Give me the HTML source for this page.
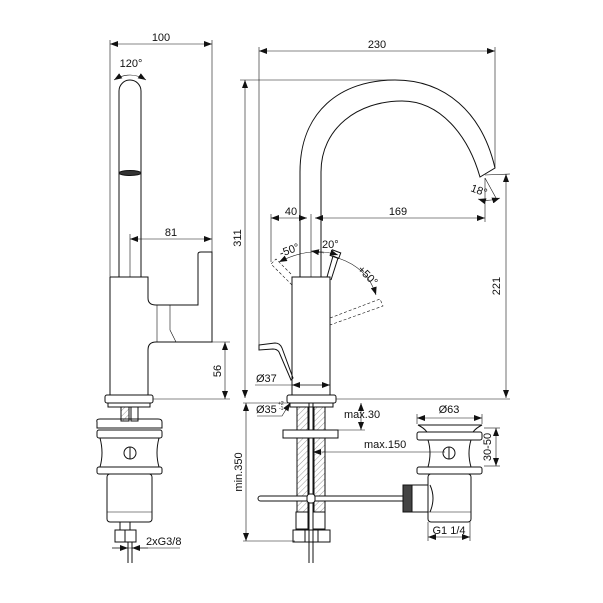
<!DOCTYPE html>
<html><head><meta charset="utf-8"><style>
html,body{margin:0;padding:0;background:#fff;}
svg{display:block;font-family:"Liberation Sans",sans-serif;}
text{font-size:11px;fill:#111;}
</style></head><body>
<svg width="603" height="603" viewBox="0 0 603 603" xmlns="http://www.w3.org/2000/svg">
<defs>
<marker id="a" markerWidth="8" markerHeight="6" refX="8" refY="3" orient="auto-start-reverse" markerUnits="userSpaceOnUse"><path d="M0,0 L8,3 L0,6z" fill="#111"/></marker>
<pattern id="h" width="4" height="4" patternUnits="userSpaceOnUse" patternTransform="rotate(45)"><rect width="4" height="4" fill="#fff"/><line x1="0" y1="0" x2="0" y2="4" stroke="#999" stroke-width="1"/></pattern>
</defs>
<g fill="none" stroke="#111" stroke-width="1">
<!-- LEFT VIEW -->
<line x1="110" y1="40" x2="110" y2="277" stroke-width="0.6"/>
<line x1="212" y1="40" x2="212" y2="252" stroke-width="0.6"/>
<line x1="110" y1="44" x2="212" y2="44" stroke-width="0.6" marker-start="url(#a)" marker-end="url(#a)"/>
<path d="M114,80 Q130,70 146,80" stroke-width="0.6" marker-start="url(#a)" marker-end="url(#a)"/>
<path d="M119,277 L119,91 A11,11 0 0 1 141,91 L141,277"/>
<ellipse cx="130" cy="173" rx="11" ry="2.5" fill="#333"/>
<line x1="130" y1="234" x2="130" y2="277" stroke-width="0.6"/>
<line x1="130" y1="239" x2="212" y2="239" stroke-width="0.6" marker-start="url(#a)" marker-end="url(#a)"/>
<path d="M110,277 L148,277 L148,298 Q148,305 156,305 L198,305 L198,254 Q198,252 201,252 L212,252 L212,342 L156,342 Q148,342 148,350 L148,395"/>
<line x1="110" y1="277" x2="110" y2="395"/>
<line x1="157" y1="305" x2="157" y2="342" stroke-width="0.6"/>
<path d="M170,305 L170,330 L176,342" stroke-width="0.6"/>
<line x1="212" y1="342" x2="230" y2="342" stroke-width="0.6"/>
<line x1="153" y1="399" x2="230" y2="399" stroke-width="0.6"/>
<line x1="225" y1="342" x2="225" y2="399" stroke-width="0.6" marker-start="url(#a)" marker-end="url(#a)"/>
<rect x="105" y="395" width="48" height="8" rx="2"/>
<rect x="108" y="403" width="42" height="4"/>
<rect x="121" y="407" width="8" height="14" fill="url(#h)"/>
<rect x="131" y="407" width="7" height="14"/>
<path d="M97,422 Q96,419 100,419 L158,419 Q162,419 162,422 L162,428 L97,428Z"/>
<rect x="97" y="430" width="65" height="8" rx="2"/>
<path d="M100,438 Q104,453 100,467 M159,438 Q155,453 159,467"/>
<line x1="100" y1="438" x2="159" y2="438"/>
<rect x="124" y="447" width="12" height="12" rx="6"/>
<line x1="130" y1="447" x2="130" y2="459"/>
<rect x="97" y="467" width="65" height="7" rx="2"/>
<rect x="107" y="474" width="45" height="48" rx="3"/>
<line x1="107" y1="512" x2="152" y2="512" stroke-width="0.6"/>
<rect x="120" y="522" width="10" height="8"/>
<rect x="115" y="530" width="21" height="12"/>
<line x1="125" y1="530" x2="125" y2="542"/>
<line x1="128" y1="542" x2="128" y2="563"/><line x1="132" y1="542" x2="132" y2="563"/>
<line x1="112" y1="548" x2="180" y2="548" stroke-width="0.6"/>
<line x1="112" y1="548" x2="128" y2="548" stroke-width="0.6" marker-end="url(#a)"/>
<line x1="148" y1="548" x2="132" y2="548" stroke-width="0.6" marker-end="url(#a)"/>

<!-- RIGHT VIEW -->
<line x1="259" y1="47" x2="259" y2="345" stroke-width="0.6"/>
<line x1="495" y1="47" x2="495" y2="168" stroke-width="0.6"/>
<line x1="259" y1="51" x2="495" y2="51" stroke-width="0.6" marker-start="url(#a)" marker-end="url(#a)"/>
<line x1="240" y1="80" x2="395" y2="80" stroke-width="0.6"/>
<line x1="245" y1="80" x2="245" y2="398" stroke-width="0.6" marker-start="url(#a)" marker-end="url(#a)"/>
<path d="M300,277 L300,172 C300,112 340,80 395,80 C445,80 482,112 495,168 L480,177 C468,135 440,101 402,101 C358,101 321,128 321,172 L321,277"/>
<line x1="485" y1="175" x2="510" y2="174" stroke-width="0.6"/>
<line x1="485" y1="178" x2="485" y2="222" stroke-width="0.6"/>
<line x1="485" y1="178" x2="496" y2="198" stroke-width="0.6"/>
<path d="M478,199 Q488,202 500,198" stroke-width="0.6" marker-start="url(#a)" marker-end="url(#a)"/>
<line x1="506" y1="174" x2="506" y2="398" stroke-width="0.6" marker-start="url(#a)" marker-end="url(#a)"/>
<line x1="336" y1="399" x2="510" y2="399" stroke-width="0.6"/>
<line x1="271" y1="214" x2="271" y2="262" stroke-width="0.6"/>
<line x1="311" y1="214" x2="311" y2="277" stroke-width="0.6"/>
<line x1="271" y1="218" x2="307" y2="218" stroke-width="0.6" marker-start="url(#a)" marker-end="url(#a)"/>
<line x1="315" y1="218" x2="485" y2="218" stroke-width="0.6" marker-start="url(#a)" marker-end="url(#a)"/>
<rect x="292" y="277" width="38" height="118"/>
<path d="M327,277 L333,256 L338,258 L331,280" />
<rect x="331" y="251" width="9" height="6" transform="rotate(20 335 254)"/>
<g stroke-dasharray="3,2" stroke-width="0.6">
<path d="M292,285 L271,264 L276,259 L292,275"/>
<path d="M330,318 L380,299 L383,306 L330,325"/>
</g>
<path d="M279,262 Q310,246 338,255" stroke-width="0.6" marker-start="url(#a)" marker-end="url(#a)"/>
<path d="M338,258 Q368,268 376,295" stroke-width="0.6" marker-end="url(#a)"/>
<path d="M311,251 L324,253" stroke-width="0.6" marker-start="url(#a)"/>
<path d="M259,345 L275,343 Q280,343 282,348 L293,378 L291,380 L279,352 Q277,349 273,349 L259,350Z"/>
<line x1="255" y1="385" x2="330" y2="385" stroke-width="0.6"/>
<line x1="292" y1="385" x2="330" y2="385" stroke-width="0.6" marker-start="url(#a)" marker-end="url(#a)"/>
<rect x="287" y="395" width="49" height="8" rx="2"/>
<rect x="290" y="403" width="43" height="4"/>
<rect x="297" y="407" width="11" height="105" fill="url(#h)"/>
<rect x="314" y="407" width="11" height="105" fill="url(#h)"/>
<line x1="309" y1="403" x2="309" y2="563"/><line x1="313" y1="403" x2="313" y2="563"/>
<rect x="283" y="430" width="55" height="8" fill="#fff"/>
<line x1="336" y1="430" x2="365" y2="430" stroke-width="0.6"/>
<line x1="361" y1="403" x2="361" y2="430" stroke-width="0.6" marker-start="url(#a)" marker-end="url(#a)"/>
<line x1="313" y1="452" x2="445" y2="452" stroke-width="0.6" marker-start="url(#a)"/>
<rect x="258" y="496" width="147" height="5" rx="2.5" fill="#fff"/>
<rect x="307" y="494" width="8" height="9" rx="3" fill="#fff"/>
<rect x="403" y="485" width="9" height="27" fill="#444"/>
<rect x="296" y="512" width="12" height="17"/>
<rect x="313" y="512" width="12" height="17"/>
<rect x="293" y="530" width="37" height="12"/>
<line x1="305" y1="530" x2="305" y2="542"/><line x1="318" y1="530" x2="318" y2="542"/>
<line x1="243" y1="403" x2="290" y2="403" stroke-width="0.6"/>
<line x1="243" y1="541" x2="295" y2="541" stroke-width="0.6"/>
<line x1="246" y1="403" x2="246" y2="541" stroke-width="0.6" marker-start="url(#a)" marker-end="url(#a)"/>
<path d="M257,416 L282,416 L290,403" stroke-width="0.6" marker-end="url(#a)"/>

<!-- WASTE -->
<line x1="417" y1="414" x2="417" y2="424" stroke-width="0.6"/>
<line x1="482" y1="414" x2="482" y2="424" stroke-width="0.6"/>
<line x1="417" y1="418" x2="482" y2="418" stroke-width="0.6" marker-start="url(#a)" marker-end="url(#a)"/>
<path d="M418,425 L482,425 Q476,428 473,432 L427,432 Q424,428 418,425Z"/>
<rect x="417" y="432" width="65" height="8" rx="2"/>
<path d="M428,440 Q432,453 428,467 M471,440 Q467,453 471,467"/>
<rect x="443" y="447" width="12" height="12" rx="6"/>
<line x1="449" y1="447" x2="449" y2="459"/>
<rect x="417" y="467" width="65" height="7" rx="2"/>
<rect x="428" y="474" width="43" height="48" rx="3"/>
<line x1="428" y1="512" x2="471" y2="512" stroke-width="0.6"/>
<path d="M412,485 L428,485 M412,512 L428,512 M430,485 Q436,498 430,512"/>
<line x1="484" y1="428" x2="500" y2="428" stroke-width="0.6"/>
<line x1="484" y1="466" x2="500" y2="466" stroke-width="0.6"/>
<line x1="496" y1="428" x2="496" y2="466" stroke-width="0.6" marker-start="url(#a)" marker-end="url(#a)"/>
<line x1="428" y1="522" x2="428" y2="541" stroke-width="0.6"/>
<line x1="470" y1="522" x2="470" y2="541" stroke-width="0.6"/>
<line x1="428" y1="537" x2="470" y2="537" stroke-width="0.6" marker-start="url(#a)" marker-end="url(#a)"/>
</g>
<text x="161" y="41" text-anchor="middle">100</text>
<text x="131" y="67" text-anchor="middle">120°</text>
<text x="171" y="236" text-anchor="middle">81</text>
<text x="221" y="371" text-anchor="middle" transform="rotate(-90 221 371)">56</text>
<text x="146" y="545">2xG3/8</text>
<text x="377" y="48" text-anchor="middle">230</text>
<text x="241" y="238" text-anchor="middle" transform="rotate(-90 241 238)">311</text>
<text x="500" y="286" text-anchor="middle" transform="rotate(-90 500 286)">221</text>
<text x="291" y="215" text-anchor="middle">40</text>
<text x="398" y="215" text-anchor="middle">169</text>
<text x="470" y="191" transform="rotate(20 470 191)">18°</text>
<text x="281" y="257" transform="rotate(-20 281 257)">-50°</text>
<text x="322" y="248">20°</text>
<text x="357" y="270" transform="rotate(45 357 270)">+50°</text>
<text x="256" y="382">Ø37</text>
<text x="256" y="413">Ø35</text>
<text x="278" y="405" style="font-size:5px">+2</text>
<text x="279" y="410" style="font-size:5px">-1</text>
<text x="344" y="418">max.30</text>
<text x="364" y="448">max.150</text>
<text x="242" y="472" text-anchor="middle" transform="rotate(-90 242 472)">min.350</text>
<text x="449" y="413" text-anchor="middle">Ø63</text>
<text x="491" y="447" text-anchor="middle" transform="rotate(-90 491 447)">30-50</text>
<text x="449" y="534" text-anchor="middle">G1 1/4</text>
</svg>
</body></html>
